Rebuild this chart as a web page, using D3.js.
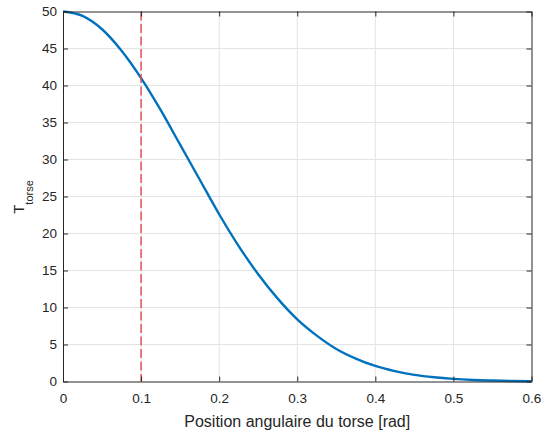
<!DOCTYPE html>
<html><head><meta charset="utf-8">
<script src="https://cdn.jsdelivr.net/npm/d3@7"></script>
<style>
html,body{margin:0;padding:0;background:#fff;}
svg{display:block;font-family:"Liberation Sans",Arial,Helvetica,sans-serif;}
</style></head>
<body>
<svg id="c" width="548" height="433"></svg>
<script>
// Data
const xs = [0,0.025,0.05,0.075,0.1,0.125,0.15,0.175,0.2,0.225,0.25,0.275,0.3,0.325,0.35,0.375,0.4,0.425,0.45,0.475,0.5,0.525,0.55,0.575,0.6];
const ys = [50,49.4,47.6,44.7,41.0,36.7,32.0,27.3,22.6,18.3,14.5,11.2,8.4,6.2,4.4,3.1,2.1,1.4,0.9,0.57,0.35,0.21,0.13,0.07,0.04];
const xTicks = [0,0.1,0.2,0.3,0.4,0.5,0.6];
const yTicks = [0,5,10,15,20,25,30,35,40,45,50];
const vLineX = 0.1;
const xLabel = "Position angulaire du torse [rad]";
const yLabelMain = "T";
const yLabelSub = "torse";

const svg = d3.select("#c");
const L = 63, R = 531.5, T = 11.5, B = 381.5;
const x = d3.scaleLinear().domain([0,0.6]).range([L,R]);
const y = d3.scaleLinear().domain([0,50]).range([B,T]);
const axisCol = "#262626";

// grid
const g = svg.append("g");
g.selectAll("line.vx").data(xTicks.slice(1,-1)).join("line")
  .attr("x1",d=>x(d)).attr("x2",d=>x(d)).attr("y1",T).attr("y2",B)
  .attr("stroke","#e3e3e3").attr("stroke-width",1);
g.selectAll("line.hy").data(yTicks.slice(1,-1)).join("line")
  .attr("x1",L).attr("x2",R).attr("y1",d=>y(d)).attr("y2",d=>y(d))
  .attr("stroke","#e3e3e3").attr("stroke-width",1);

// curve
const line = d3.line().x((d,i)=>x(xs[i])).y(d=>y(d)).curve(d3.curveMonotoneX);
svg.append("path").datum(ys).attr("d",line).attr("fill","none")
  .attr("stroke","#0072BD").attr("stroke-width",2.4);

// dashed red line
svg.append("line").attr("x1",x(vLineX)).attr("x2",x(vLineX)).attr("y1",T).attr("y2",B)
  .attr("stroke","#e8474f").attr("stroke-width",1.4).attr("stroke-dasharray","9,3.5");

// axes (box with inward ticks)
const tl = 5;
const axB = d3.axisBottom(x).tickValues(xTicks).tickFormat(d=>d===0?"0":d3.format(".1f")(d)).tickSizeInner(-tl).tickSizeOuter(0).tickPadding(12);
const axT = d3.axisTop(x).tickValues(xTicks).tickFormat("").tickSizeInner(-tl).tickSizeOuter(0);
const axLf = d3.axisLeft(y).tickValues(yTicks).tickFormat(d3.format("d")).tickSizeInner(-tl).tickSizeOuter(0).tickPadding(6);
const axRt = d3.axisRight(y).tickValues(yTicks).tickFormat("").tickSizeInner(-tl).tickSizeOuter(0);

function style(sel){
  sel.selectAll("path.domain").attr("stroke",axisCol).attr("stroke-width",1);
  sel.selectAll(".tick line").attr("stroke",axisCol).attr("stroke-width",1);
  sel.selectAll(".tick text").attr("fill",axisCol).style("font-size","13.5px")
    .style("font-family","'Liberation Sans',Arial,sans-serif");
}
style(svg.append("g").attr("transform",`translate(0,${B})`).call(axB));
style(svg.append("g").attr("transform",`translate(0,${T})`).call(axT));
style(svg.append("g").attr("transform",`translate(${L},0)`).call(axLf));
style(svg.append("g").attr("transform",`translate(${R},0)`).call(axRt));

// labels
svg.append("text").attr("x",(L+R)/2).attr("y",427).attr("text-anchor","middle")
  .attr("fill",axisCol).style("font-size","16px").text(xLabel);

const yl = svg.append("text").attr("transform","translate(24,197) rotate(-90)")
  .attr("text-anchor","middle").attr("fill",axisCol).style("font-size","15px");
yl.append("tspan").text(yLabelMain);
yl.append("tspan").attr("dy",9).style("font-size","11px").text(yLabelSub);
</script>
</body></html>
